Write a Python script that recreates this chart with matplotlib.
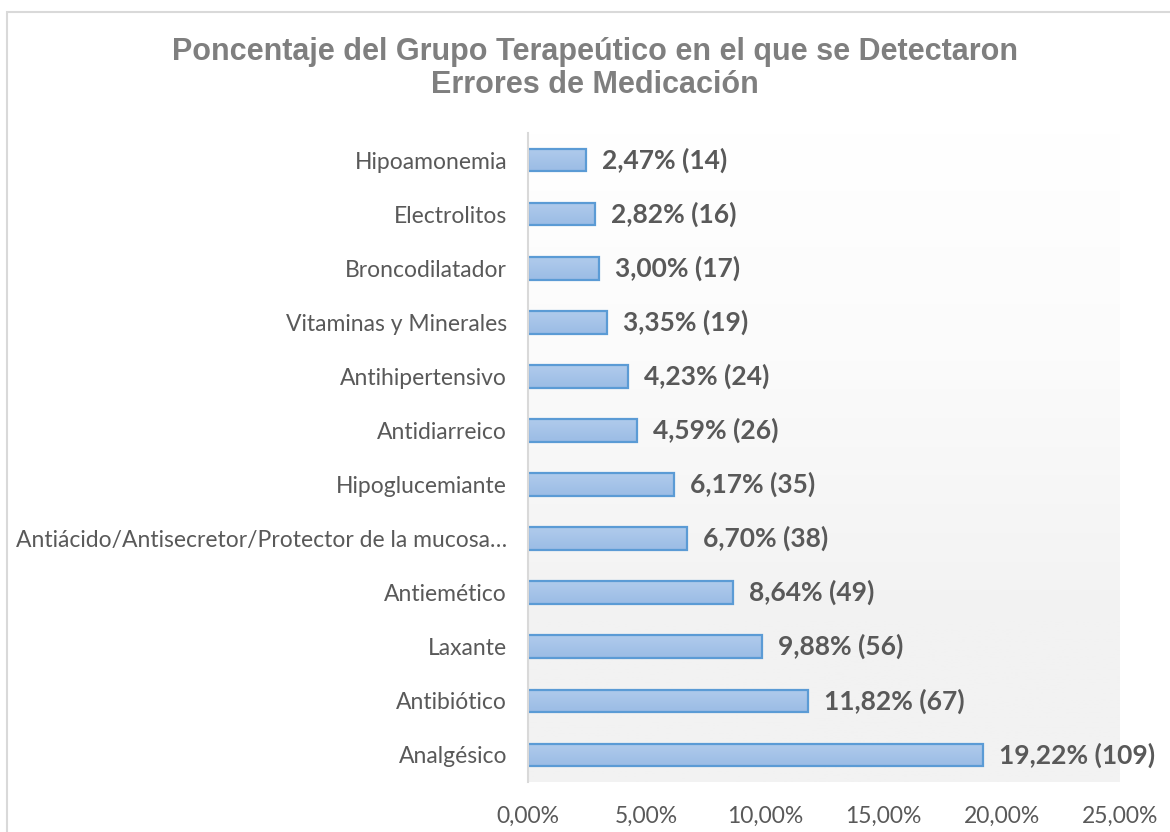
import numpy as np
import matplotlib
matplotlib.use("Agg")
import matplotlib.pyplot as plt
from matplotlib.patches import Rectangle
from matplotlib.colors import LinearSegmentedColormap

categories = ["Analgésico", "Antibiótico", "Laxante", "Antiemético",
              "Antiácido/Antisecretor/Protector de la mucosa…",
              "Hipoglucemiante", "Antidiarreico", "Antihipertensivo",
              "Vitaminas y Minerales", "Broncodilatador", "Electrolitos",
              "Hipoamonemia"]
percent = [19.22, 11.82, 9.88, 8.64, 6.70, 6.17, 4.59, 4.23, 3.35, 3.00, 2.82, 2.47]
counts = [109, 67, 56, 49, 38, 35, 26, 24, 19, 17, 16, 14]
xticks = [0, 5, 10, 15, 20, 25]
xticklabels = ["0,00%", "5,00%", "10,00%", "15,00%", "20,00%", "25,00%"]
title_lines = ["Poncentaje del Grupo Terapeútico en el que se Detectaron",
               "Errores de Medicación"]

W, H = 1170, 832
fig = plt.figure(figsize=(W / 100, H / 100), dpi=100)
fig.patch.set_facecolor("white")

# chart border
fig.patches.append(Rectangle((7 / W, -0.05), 1.2, (H - 12) / H + 0.05,
                             transform=fig.transFigure, fill=False,
                             edgecolor="#d9d9d9", linewidth=1.5))

left, right, top, bottom = 528, 1120, 133, 782
ax = fig.add_axes([left / W, (H - bottom) / H, (right - left) / W, (bottom - top) / H])

# plot-area background gradient
grad = np.linspace(0, 1, 256).reshape(-1, 1)
bg_cmap = LinearSegmentedColormap.from_list("bg", [(0, "#ffffff"), (0.35, "#fbfbfb"), (0.75, "#f2f2f2"), (1, "#f2f2f2")])
ax.imshow(grad, aspect="auto", cmap=bg_cmap, extent=[0, 25, -0.5, len(categories) - 0.5],
          origin="upper", zorder=0)

y = np.arange(len(categories))
bars = ax.barh(y, percent, height=0.42, facecolor="none", edgecolor="#5b9bd5",
               linewidth=1.6, zorder=3)

bar_cmap = LinearSegmentedColormap.from_list("bar", ["#9bbce5", "#b0cbec"])
for b in bars:
    x0, y0 = b.get_x(), b.get_y()
    w, h = b.get_width(), b.get_height()
    im = ax.imshow(np.linspace(0, 1, 64).reshape(-1, 1), aspect="auto", cmap=bar_cmap,
                   extent=[x0, x0 + w, y0, y0 + h], origin="lower", zorder=2)
    im.set_clip_path(b)

for b, p, c in zip(bars, percent, counts):
    lab = f"{p:.2f}".replace(".", ",") + f"% ({c})"
    ax.annotate(lab, (b.get_width(), b.get_y() + b.get_height() / 2),
                xytext=(11.5, 0), textcoords="offset points", ha="left", va="center",
                fontsize=19, fontweight="bold", color="#595959", family="Lato",
                zorder=4, annotation_clip=False)

ax.set_xlim(0, 25)
ax.set_ylim(-0.5, len(categories) - 0.5)
ax.set_xticks(xticks)
ax.set_xticklabels(xticklabels)
ax.set_yticks(y)
ax.set_yticklabels(categories)
for lbl in ax.get_xticklabels() + ax.get_yticklabels():
    lbl.set_family("Lato")
    lbl.set_fontsize(16.5)
    lbl.set_color("#595959")
ax.tick_params(axis="x", length=0, pad=17)
ax.tick_params(axis="y", length=0, pad=15)
for s in ["top", "right", "bottom"]:
    ax.spines[s].set_visible(False)
ax.spines["left"].set_color("#d9d9d9")
ax.spines["left"].set_linewidth(1.5)
ax.spines["left"].set_zorder(5)

for i, (t, base) in enumerate(zip(title_lines, [60, 93])):
    fig.text(595 / W, 1 - base / H, t, ha="center", va="baseline",
             fontsize=22, fontweight="bold", color="#7f7f7f", family="Liberation Sans")

fig.savefig("out.png", dpi=100, facecolor="white")
